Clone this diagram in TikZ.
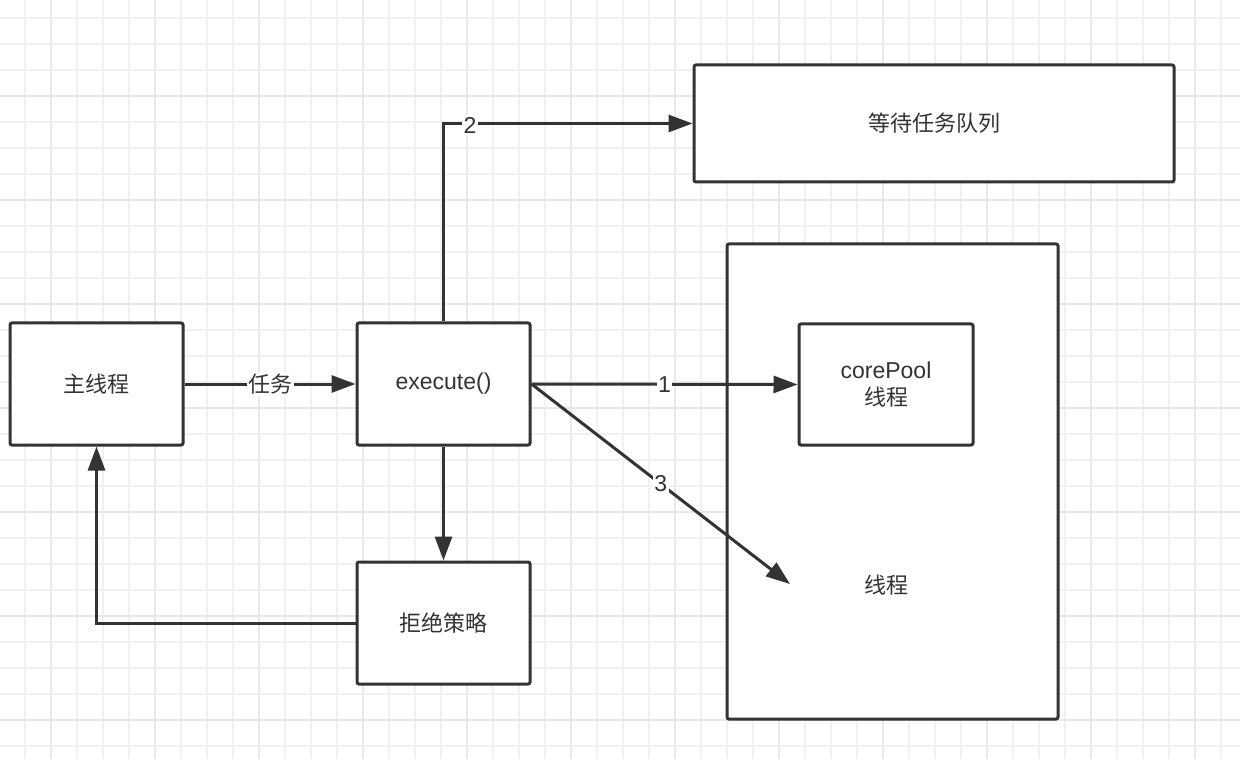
\documentclass[tikz,border=0pt]{standalone}
\usepackage{fontspec}
\setmainfont{Liberation Sans}
\newfontfamily\cjk{Noto Sans CJK SC}
\usetikzlibrary{arrows.meta}
\definecolor{linec}{HTML}{333333}
\definecolor{gridminor}{HTML}{F1F1F1}
\definecolor{gridmajor}{HTML}{E9E9E9}
\newcommand{\zh}[1]{{\cjk\fontsize{22}{27}\selectfont #1}}
\tikzset{
  boxnode/.style={draw=linec, line width=3pt, fill=white, rounded corners=2pt,
    inner sep=0pt, text=linec, align=center, font=\fontsize{23}{27}\selectfont},
  arr/.style={draw=linec, line width=3pt, -{Triangle[length=24pt,width=17pt]}},
  lbl/.style={fill=white, inner sep=1.5pt, text=linec, font=\fontsize{23}{27}\selectfont},
}
\begin{document}
\begin{tikzpicture}[x=1pt,y=-1pt]
\useasboundingbox (0,0) rectangle (1240,759);
\fill[white] (0,0) rectangle (1240,759);
% grid
\foreach \i in {0,...,47} {
  \pgfmathsetmacro{\xx}{25+26*\i}
  \pgfmathtruncatemacro{\mm}{mod(\i,4)}
  \ifnum\mm=1
    \draw[gridmajor, line width=1.6pt] (\xx,0) -- (\xx,759);
  \else
    \draw[gridminor, line width=1.2pt] (\xx,0) -- (\xx,759);
  \fi
}
\foreach \j in {0,...,28} {
  \pgfmathsetmacro{\yy}{18+26*\j}
  \pgfmathtruncatemacro{\mm}{mod(\j,4)}
  \ifnum\mm=3
    \draw[gridmajor, line width=1.6pt] (0,\yy) -- (1240,\yy);
  \else
    \draw[gridminor, line width=1.2pt] (0,\yy) -- (1240,\yy);
  \fi
}
% nodes
\node[boxnode, minimum width=173pt, minimum height=122pt] (main) at (96.5,384) {\zh{主线程}};
\node[boxnode, minimum width=173pt, minimum height=122pt] (exec) at (443.5,384) {execute()};
\node[boxnode, minimum width=173pt, minimum height=122pt] (reject) at (443.5,623) {\zh{拒绝策略}};
\node[boxnode, minimum width=480pt, minimum height=117pt] (queue) at (934,123.5) {\zh{等待任务队列}};
\node[boxnode, minimum width=331pt, minimum height=475pt] (pool) at (892.5,481.5) {};
\node[boxnode, minimum width=174pt, minimum height=121pt] (core) at (886,384.5) {corePool\\\zh{线程}};
\node[text=linec, inner sep=0pt] (thr) at (886,585) {\zh{线程}};
\coordinate (t3) at (790,584);
% connectors
\draw[arr] (main.east) -- node[lbl] {\zh{任务}} (exec.west);
\draw[arr] (exec.north) |- (queue.west);
\node[lbl] (l2) at (470,125) {2};
\draw[arr] (exec.east) -- node[lbl] {1} (core.west);
\draw[arr] (exec.east) -- node[lbl, pos=0.5] {3} (t3);
\draw[arr] (exec.south) -- (reject.north);
\draw[arr] (reject.west) -| (main.south);
\end{tikzpicture}
\end{document}
